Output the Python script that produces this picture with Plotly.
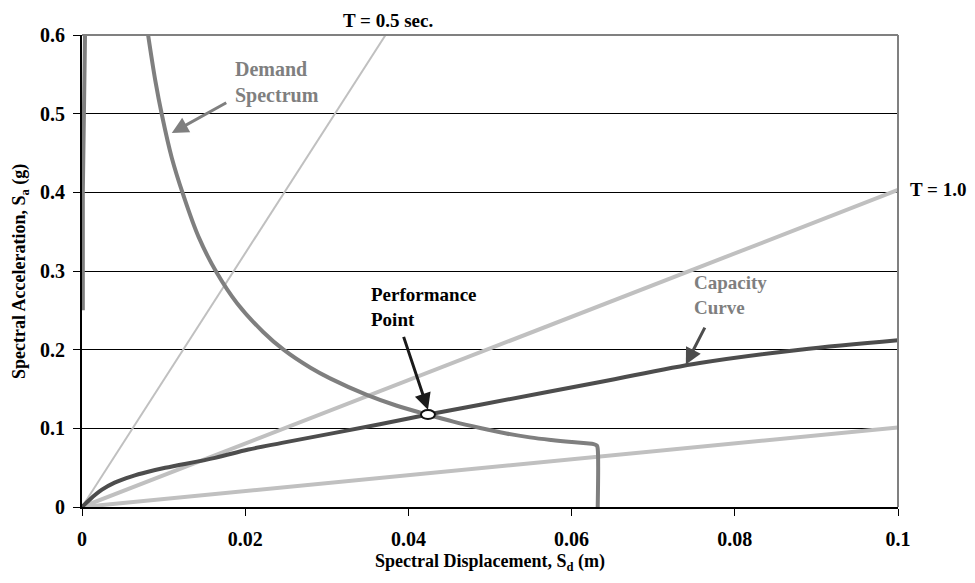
import plotly.graph_objects as go

# ---- data ----
demand_x = [0.0081, 0.0090, 0.0098, 0.0110, 0.0124, 0.0143, 0.0165, 0.0190, 0.0222, 0.0247,
            0.0280, 0.0304, 0.0349, 0.0385, 0.0424, 0.0455, 0.0488, 0.0520, 0.0549, 0.0575,
            0.0600, 0.0618, 0.0627, 0.0631, 0.0632, 0.0632]
demand_y = [0.600, 0.541, 0.498, 0.444, 0.397, 0.343, 0.298, 0.259, 0.2225, 0.200,
            0.177, 0.1635, 0.1425, 0.129, 0.1172, 0.1085, 0.1005, 0.0935, 0.0885, 0.0852,
            0.0826, 0.0810, 0.0800, 0.0780, 0.074, 0.0]
demand_top_x = [0.0001, 0.0001, 0.00037]
demand_top_y = [0.25, 0.40, 0.60]

capacity_x = [0.0, 0.0010, 0.00245, 0.0040, 0.0061, 0.0080, 0.0102, 0.0163, 0.0204, 0.0245,
              0.0365, 0.0424, 0.0488, 0.0635, 0.0757, 0.0880, 0.1000]
capacity_y = [0.0, 0.010, 0.022, 0.031, 0.039, 0.0445, 0.0498, 0.0625, 0.073, 0.0815,
              0.1052, 0.1175, 0.130, 0.159, 0.183, 0.200, 0.212]

t05_x = [0.0, 0.0372]
t05_y = [0.0, 0.600]
t10_x = [0.0, 0.1]
t10_y = [0.0, 0.403]
t20_x = [0.0, 0.1]
t20_y = [0.0, 0.101]

perf_x = [0.0424]
perf_y = [0.1175]

x_ticks = [0, 0.02, 0.04, 0.06, 0.08, 0.1]
x_ticklabels = ["0", "0.02", "0.04", "0.06", "0.08", "0.1"]
y_ticks = [0, 0.1, 0.2, 0.3, 0.4, 0.5, 0.6]
y_ticklabels = ["0", "0.1", "0.2", "0.3", "0.4", "0.5", "0.6"]

FONT = "Liberation Serif, Times New Roman, serif"
LIGHT = "#c0c0c0"
MID = "#7f7f7f"
DARK = "#4d4d4d"

fig = go.Figure()
fig.add_trace(go.Scatter(x=t05_x, y=t05_y, mode="lines", line=dict(color=LIGHT, width=2)))
fig.add_trace(go.Scatter(x=t10_x, y=t10_y, mode="lines", line=dict(color=LIGHT, width=4)))
fig.add_trace(go.Scatter(x=t20_x, y=t20_y, mode="lines", line=dict(color=LIGHT, width=4)))
fig.add_trace(go.Scatter(x=capacity_x, y=capacity_y, mode="lines",
                         line=dict(color=DARK, width=4, shape="spline", smoothing=1.0)))
fig.add_trace(go.Scatter(x=demand_top_x, y=demand_top_y, mode="lines",
                         line=dict(color=MID, width=4)))
fig.add_trace(go.Scatter(x=demand_x, y=demand_y, mode="lines",
                         line=dict(color=MID, width=4, shape="spline", smoothing=1.0)))

# performance point (ellipse anchored at the data point)
fig.add_shape(type="circle", xref="x", yref="y", xsizemode="pixel", ysizemode="pixel",
              xanchor=perf_x[0], yanchor=perf_y[0], x0=-7, x1=7, y0=-4.5, y1=4.5,
              line=dict(color="#111111", width=2), fillcolor="white", layer="above")

# frame: grey top and right borders
fig.add_shape(type="line", xref="paper", yref="paper", x0=0, x1=1, y0=1, y1=1,
              line=dict(color="#808080", width=2))
fig.add_shape(type="line", xref="paper", yref="paper", x0=1, x1=1, y0=0, y1=1,
              line=dict(color="#808080", width=2))

bold = dict(family=FONT, size=19, color="black")
tiny = dict(family=FONT, size=1, color="white")
annotations = [
    dict(x=0.0185, y=0.539, xref="x", yref="y", text="<b>Demand<br>Spectrum</b>",
         showarrow=False, xanchor="left", align="left",
         font=dict(family=FONT, size=20, color=MID)),
    dict(x=0.0110, y=0.4755, xref="x", yref="y", text=" ", font=tiny, showarrow=True,
         ax=56, ay=-31, arrowhead=2, arrowsize=1.1, arrowwidth=3, arrowcolor=MID, standoff=0),
    dict(x=0.0352, y=0.2548, xref="x", yref="y", text="<b>Performance<br>Point</b>",
         showarrow=False, xanchor="left", align="left", font=bold),
    dict(x=perf_x[0], y=perf_y[0] + 0.006, xref="x", yref="y", text=" ", font=tiny,
         showarrow=True, ax=-25, ay=-75, arrowhead=2, arrowsize=1.1, arrowwidth=3,
         arrowcolor="#1a1a1a", standoff=0),
    dict(x=0.0748, y=0.270, xref="x", yref="y", text="<b>Capacity<br>Curve</b>",
         showarrow=False, xanchor="left", align="left",
         font=dict(family=FONT, size=19, color=MID)),
    dict(x=0.0740, y=0.181, xref="x", yref="y", text=" ", font=tiny, showarrow=True,
         ax=20, ay=-39, arrowhead=2, arrowsize=1.1, arrowwidth=3, arrowcolor=DARK, standoff=0),
    dict(x=t05_x[1] + 0.0003, y=1, xref="x", yref="paper", text="<b>T = 0.5 sec.</b>",
         showarrow=False, xanchor="center", yanchor="bottom", yshift=2, font=bold),
    dict(x=1, y=t10_y[1], xref="paper", yref="y", text="<b>T = 1.0</b>",
         showarrow=False, xanchor="left", yanchor="middle", xshift=10, font=bold),
    # axis titles
    dict(x=0.5, y=-0.118, xref="paper", yref="paper",
         text="<b>Spectral Displacement, S<sub>d</sub> (m)</b>", showarrow=False,
         xanchor="center", yanchor="middle", font=dict(family=FONT, size=18, color="black")),
    dict(x=-0.076, y=0.5, xref="paper", yref="paper",
         text="<b>Spectral Acceleration, S<sub>a</sub> (g)</b>", showarrow=False, textangle=-90,
         xanchor="center", yanchor="middle", font=dict(family=FONT, size=18, color="black")),
]

# the page body adds an 8 px offset, so margins are shifted by 8 px
fig.update_layout(
    width=975, height=583,
    margin=dict(l=74, r=85, t=27, b=84),
    paper_bgcolor="white", plot_bgcolor="white",
    showlegend=False,
    font=dict(family=FONT, size=19, color="black"),
    annotations=annotations,
    xaxis=dict(range=[0, 0.1], tickvals=x_ticks, ticktext=["<b>%s</b>" % t for t in x_ticklabels],
               showgrid=False, zeroline=False, showline=True, linecolor="black", linewidth=2,
               ticks="outside", ticklen=7, tickcolor="black", tickwidth=1, automargin=False,
               ticklabelstandoff=6, tickfont=dict(family=FONT, size=20, color="black")),
    yaxis=dict(range=[0, 0.6], tickvals=y_ticks, ticktext=["<b>%s</b>" % t for t in y_ticklabels],
               showgrid=True, gridcolor="black", gridwidth=1, zeroline=False,
               showline=True, linecolor="black", linewidth=2, automargin=False,
               ticks="outside", ticklen=7, tickcolor="black", tickwidth=1,
               ticklabelstandoff=4, tickfont=dict(family=FONT, size=20, color="black")),
)

fig.write_html("out.html")
